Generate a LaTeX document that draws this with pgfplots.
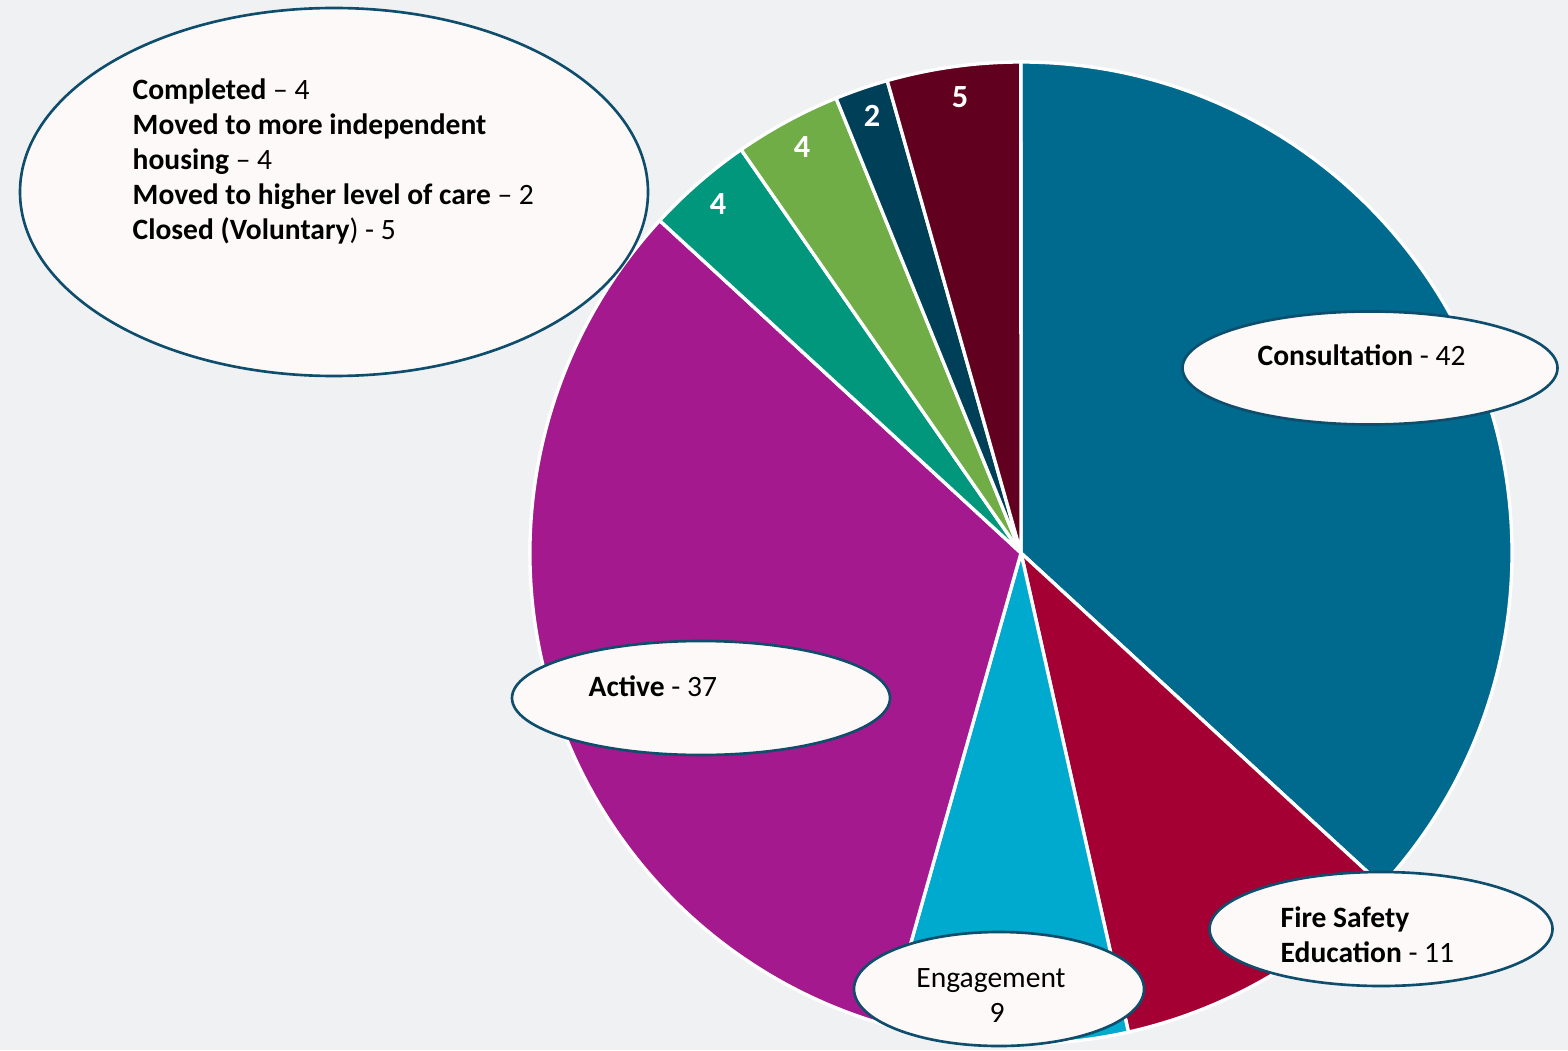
\documentclass[border=0pt]{standalone}
\usepackage{pgfplots}
\pgfplotsset{compat=1.18}
\usepackage{fontspec}
\setmainfont{Carlito}
\definecolor{bgcol}{HTML}{F0F1F3}
\definecolor{cCons}{HTML}{006A8E}
\definecolor{cFire}{HTML}{A50034}
\definecolor{cEng}{HTML}{00A9CE}
\definecolor{cAct}{HTML}{A4198D}
\definecolor{cComp}{HTML}{00977C}
\definecolor{cInd}{HTML}{70AD47}
\definecolor{cCare}{HTML}{003F58}
\definecolor{cClosed}{HTML}{62001F}
\definecolor{ellfill}{HTML}{FCF9F8}
\definecolor{elldraw}{HTML}{0E4D6B}
\begin{document}
\begin{tikzpicture}[font=\fontsize{8.4}{10}\selectfont]
\fill[bgcol] (0,0) rectangle (15.68cm,10.5cm);
\begin{axis}[at={(10.21cm,4.97cm)}, anchor=center, scale only axis,
  width=9.82cm, height=9.82cm, xmin=-1, xmax=1, ymin=-1, ymax=1,
  hide axis, clip=false]
\addplot[draw=none] coordinates {(0,0)};
\pgfplotsextra{
  \gdef\acc{90}
  \foreach \v/\c in {42/cCons,11/cFire,9/cEng,37/cAct,4/cComp,4/cInd,2/cCare,5/cClosed}{
    \pgfmathsetmacro\aend{\acc-\v/114*360}
    \fill[\c, draw=white, line width=0.95pt, line join=round]
      (axis cs:0,0) -- (axis cs:{cos(\acc)},{sin(\acc)})
      arc[start angle=\acc, end angle=\aend, radius=4.91cm] -- cycle;
    \xdef\acc{\aend}
  }
}
\end{axis}
% slice labels
\begin{scope}[every node/.style={text=white, font=\fontsize{9.2}{10}\selectfont\bfseries}]
\node at (9.60cm,9.53cm) {5};
\node at (8.72cm,9.34cm) {2};
\node at (8.02cm,9.03cm) {4};
\node at (7.18cm,8.46cm) {4};
\end{scope}
% callouts
\begin{scope}[line width=0.75pt]
\filldraw[fill=ellfill, draw=elldraw] (3.34cm,8.58cm) ellipse [x radius=3.14cm, y radius=1.84cm];
\filldraw[fill=ellfill, draw=elldraw] (13.70cm,6.82cm) ellipse [x radius=1.875cm, y radius=0.565cm];
\filldraw[fill=ellfill, draw=elldraw] (13.81cm,1.21cm) ellipse [x radius=1.715cm, y radius=0.57cm];
\filldraw[fill=ellfill, draw=elldraw] (9.99cm,0.61cm) ellipse [x radius=1.45cm, y radius=0.57cm];
\filldraw[fill=ellfill, draw=elldraw] (7.01cm,3.52cm) ellipse [x radius=1.89cm, y radius=0.57cm];
\end{scope}
\begin{scope}[every node/.style={anchor=base west, inner sep=0pt}]
\node at (1.32cm,9.50cm) {\textbf{Completed} – 4};
\node at (1.32cm,9.15cm) {\textbf{Moved to more independent}};
\node at (1.32cm,8.80cm) {\textbf{housing} – 4};
\node at (1.32cm,8.45cm) {\textbf{Moved to higher level of care} – 2};
\node at (1.32cm,8.10cm) {\textbf{Closed (Voluntary}) - 5};
\node at (12.57cm,6.85cm) {\textbf{Consultation} - 42};
\node at (12.80cm,1.23cm) {\textbf{Fire Safety}};
\node at (12.80cm,0.88cm) {\textbf{Education} - 11};
\node at (5.88cm,3.54cm) {\textbf{Active} - 37};
\end{scope}
\node[anchor=base, inner sep=0pt] at (9.91cm,0.63cm) {Engagement};
\node[anchor=base, inner sep=0pt] at (9.97cm,0.28cm) {9};
\pgfresetboundingbox
\useasboundingbox (0,0) rectangle (15.68cm,10.5cm);
\end{tikzpicture}
\end{document}
